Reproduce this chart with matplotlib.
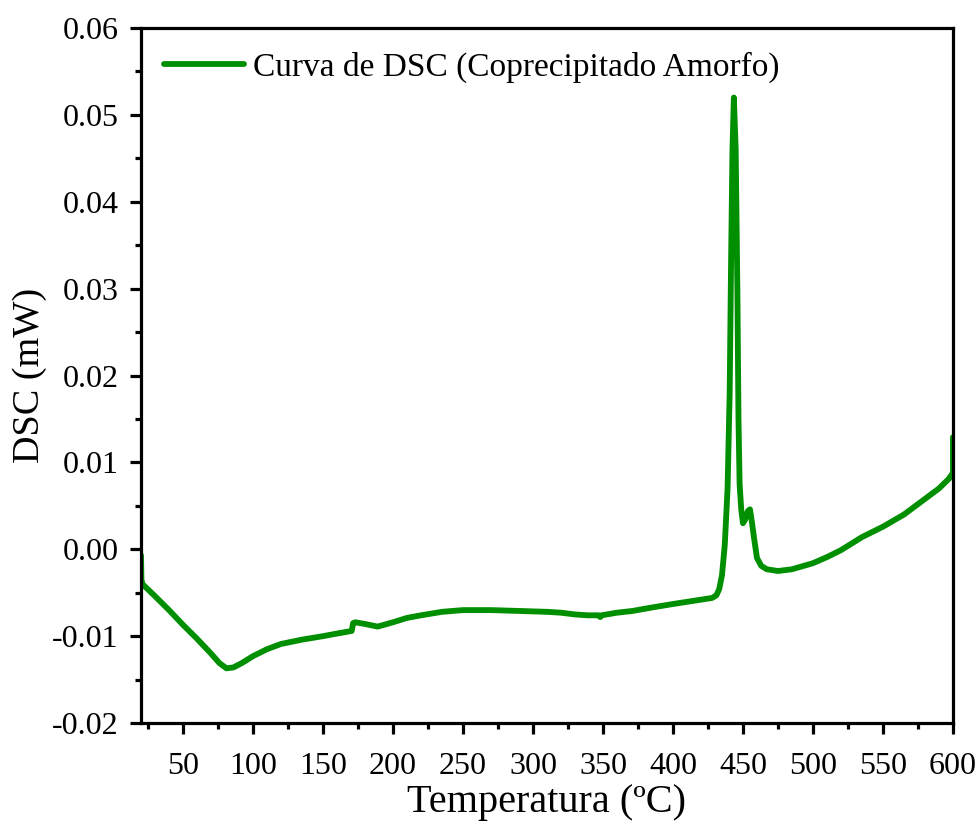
import numpy as np
import matplotlib
matplotlib.use("Agg")
import matplotlib.pyplot as plt
from matplotlib.ticker import MultipleLocator, FormatStrFormatter

# curva DSC del coprecipitado amorfo
temperatura = [20.0, 20.3, 21, 30, 40, 50, 60, 70, 76, 81, 86, 92, 100, 110, 120,
               135, 150, 160, 170.5, 171.5, 173, 180, 189, 200, 210, 220, 235, 250,
               270, 290, 310, 320, 330, 339, 347, 348, 349, 360, 371, 385, 400, 412,
               420, 428, 431, 433, 435, 437, 439, 440.5, 441.5, 442.5, 443.5, 444.8,
               446.0, 446.8, 447.6, 448.8, 450, 451.5, 453.5, 455, 456.5, 458, 460,
               463, 467, 475, 485, 500, 510, 520, 535, 550, 565, 580, 590, 597,
               600, 600]
dsc = [-0.0007, -0.0035, -0.0040, -0.0054, -0.0070, -0.0087, -0.0103, -0.0120,
       -0.0131, -0.0137, -0.0136, -0.0131, -0.0123, -0.0115, -0.0109, -0.0104,
       -0.0100, -0.0097, -0.0094, -0.0085, -0.0084, -0.0086, -0.0089, -0.0084,
       -0.0079, -0.0076, -0.0072, -0.0070, -0.0070, -0.0071, -0.0072, -0.0073,
       -0.0075, -0.0076, -0.0076, -0.0078, -0.0076, -0.0073, -0.0071, -0.0067,
       -0.0063, -0.0060, -0.0058, -0.0056, -0.0053, -0.0046, -0.0030, 0.0005,
       0.0070, 0.0180, 0.0330, 0.0460, 0.0520, 0.0460, 0.0300, 0.0150, 0.0075,
       0.0045, 0.0030, 0.0034, 0.0044, 0.0046, 0.0030, 0.0012, -0.0010, -0.0019,
       -0.0023, -0.0025, -0.0023, -0.0016, -0.0009, -0.0001, 0.0014, 0.0026,
       0.0040, 0.0058, 0.0070, 0.0081, 0.0088, 0.0129]

plt.rcParams['font.family'] = ['Liberation Serif', 'DejaVu Serif']
plt.rcParams['axes.unicode_minus'] = False

fig = plt.figure(figsize=(9.8, 8.25), dpi=100)
ax = fig.add_axes([0.1439, 0.1236, 0.8285, 0.8424])

ax.plot(temperatura, dsc, color='#008f00', lw=4.2, solid_capstyle='round',
        solid_joinstyle='round', label='Curva de DSC (Coprecipitado Amorfo)')

ax.set_xlim(20, 600)
ax.set_ylim(-0.02, 0.06)
ax.xaxis.set_major_locator(MultipleLocator(50))
ax.xaxis.set_minor_locator(MultipleLocator(25))
ax.yaxis.set_major_locator(MultipleLocator(0.01))
ax.yaxis.set_minor_locator(MultipleLocator(0.005))
ax.yaxis.set_major_formatter(FormatStrFormatter('%.2f'))
ax.set_xticks([50, 100, 150, 200, 250, 300, 350, 400, 450, 500, 550, 600])

for s in ax.spines.values():
    s.set_linewidth(2.3)
ax.tick_params(which='major', direction='out', length=8, width=2.3,
               labelsize=23)
ax.tick_params(which='minor', direction='out', length=4.5, width=2.3)
ax.tick_params(axis='y', pad=8)
ax.tick_params(axis='x', pad=13)

ax.set_xlabel('Temperatura (ºC)', fontsize=29, labelpad=2)
ax.set_ylabel('DSC (mW)', fontsize=27.5, labelpad=4)

ax.legend(loc='upper left', frameon=False, fontsize=24, handlelength=2.4,
          handletextpad=0.25, borderaxespad=0.3, bbox_to_anchor=(0.0, 1.0))

fig.savefig('out.png', dpi=100)
